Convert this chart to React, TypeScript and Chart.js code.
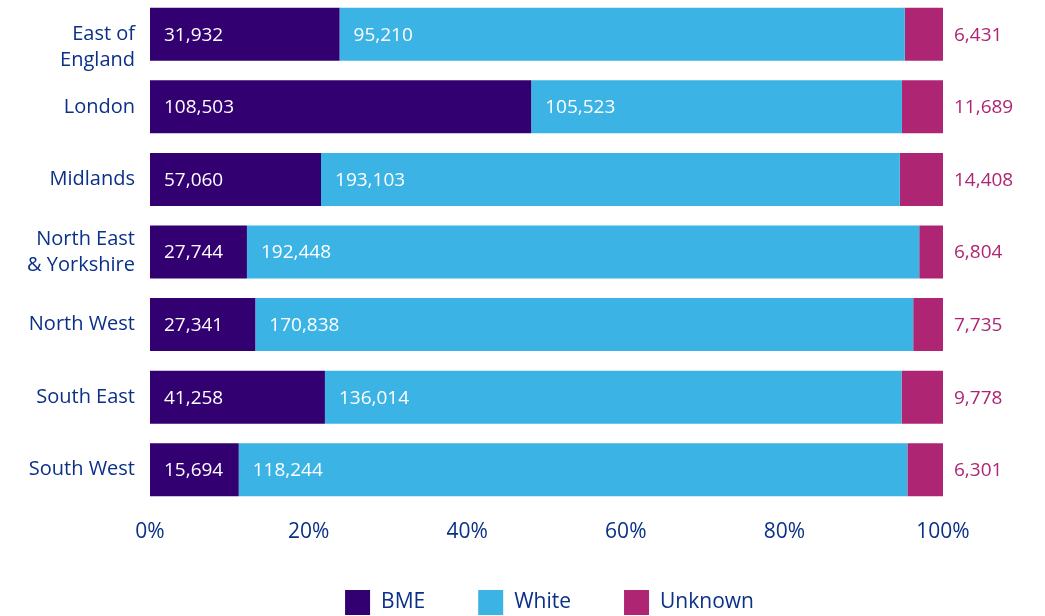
import React, { useEffect, useRef } from "react";
import { Chart, registerables } from "chart.js";

Chart.register(...registerables);

const categories: (string | string[])[] = [
  ["", "East of", "England"],
  "London",
  "Midlands",
  ["North East", "& Yorkshire"],
  "North West",
  "South East",
  "South West",
];
const bme = [31932, 108503, 57060, 27744, 27341, 41258, 15694];
const white = [95210, 105523, 193103, 192448, 170838, 136014, 118244];
const unknown = [6431, 11689, 14408, 6804, 7735, 9778, 6301];
const seriesNames = ["BME", "White", "Unknown"];
const xTickValues = [0, 20, 40, 60, 80, 100];

const BME_COLOR = "#330072";
const WHITE_COLOR = "#3bb4e5";
const UNKNOWN_COLOR = "#ae2573";
const TEXT_BLUE = "#0b3088";
const FONT = "'Open Sans', 'Noto Sans', sans-serif";

const fmt = (n: number) => n.toLocaleString("en-GB");

export default function App() {
  const ref = useRef<HTMLCanvasElement>(null);

  useEffect(() => {
    if (!ref.current) return;
    const totals = bme.map((v, i) => v + white[i] + unknown[i]);
    const pct = (arr: number[]) => arr.map((v, i) => (v / totals[i]) * 100);
    const rawSeries = [bme, white, unknown];

    const labelPlugin = {
      id: "segmentLabels",
      afterDatasetsDraw(chart: any) {
        const ctx = chart.ctx;
        ctx.save();
        ctx.font = `19px ${FONT}`;
        ctx.textBaseline = "middle";
        ctx.textAlign = "left";
        chart.data.datasets.forEach((ds: any, di: number) => {
          const meta = chart.getDatasetMeta(di);
          meta.data.forEach((el: any, i: number) => {
            const text = fmt(rawSeries[di][i]);
            const start = Math.min(el.base, el.x);
            const end = Math.max(el.base, el.x);
            if (di === 2) {
              ctx.fillStyle = UNKNOWN_COLOR;
              ctx.fillText(text, end + 11, el.y + 1);
            } else {
              ctx.fillStyle = "#ffffff";
              ctx.fillText(text, start + 14, el.y + 1);
            }
          });
        });
        ctx.restore();
      },
    };

    const legendPlugin = {
      id: "bottomLegend",
      afterDraw(chart: any) {
        const ctx = chart.ctx;
        const area = chart.chartArea;
        ctx.save();
        ctx.font = `21px ${FONT}`;
        ctx.textBaseline = "middle";
        ctx.textAlign = "left";
        const box = 25;
        const gapText = 11;
        const gapItem = 53;
        const widths = chart.data.datasets.map(
          (ds: any) => box + gapText + ctx.measureText(ds.label).width
        );
        const total =
          widths.reduce((a: number, b: number) => a + b, 0) +
          gapItem * (widths.length - 1);
        let x = (area.left + area.right) / 2 - total / 2 + 3;
        const top = area.bottom + 84;
        chart.data.datasets.forEach((ds: any, i: number) => {
          ctx.fillStyle = ds.backgroundColor;
          ctx.fillRect(x, top, box, box);
          ctx.fillStyle = TEXT_BLUE;
          ctx.fillText(ds.label, x + box + gapText, top + box / 2);
          x += widths[i] + gapItem;
        });
        ctx.restore();
      },
    };

    const colors = [BME_COLOR, WHITE_COLOR, UNKNOWN_COLOR];
    const chart = new Chart(ref.current, {
      type: "bar",
      data: {
        labels: categories,
        datasets: [bme, white, unknown].map((arr, i) => ({
          label: seriesNames[i],
          data: pct(arr),
          backgroundColor: colors[i],
          borderWidth: 0,
          barPercentage: 0.73,
          categoryPercentage: 1,
        })),
      },
      options: {
        indexAxis: "y",
        responsive: false,
        animation: false,
        layout: { padding: { left: 0, right: 102, top: 0, bottom: 0 } },
        scales: {
          x: {
            stacked: true,
            min: 0,
            max: 100,
            afterBuildTicks: (scale: any) => {
              scale.ticks = xTickValues.map((v) => ({ value: v }));
            },
            ticks: {
              callback: (v: any) => `${v}%`,
              color: TEXT_BLUE,
              font: { family: FONT, size: 21 },
              padding: 13,
              maxRotation: 0,
            },
            grid: { display: false, drawTicks: false },
            border: { display: false },
            afterFit: (scale: any) => {
              scale.height = 110;
              scale.paddingLeft = 0;
              scale.paddingRight = 0;
            },
          },
          y: {
            stacked: true,
            ticks: {
              color: TEXT_BLUE,
              font: { family: FONT, size: 20, lineHeight: 1.3 },
              padding: 15,
              autoSkip: false,
            },
            grid: { display: false, drawTicks: false },
            border: { display: false },
            afterFit: (scale: any) => {
              scale.width = 150;
              scale.paddingTop = 0;
              scale.paddingBottom = 0;
            },
          },
        },
        plugins: {
          legend: { display: false },
          tooltip: { enabled: false },
        },
      } as any,
      plugins: [labelPlugin, legendPlugin],
    });
    return () => chart.destroy();
  }, []);

  return (
    <div
      style={{
        position: "absolute",
        left: 0,
        top: -2,
        width: 1045,
        height: 618,
        background: "#ffffff",
      }}
    >
      <canvas ref={ref} width={1045} height={618} style={{ display: "block" }} />
    </div>
  );
}
